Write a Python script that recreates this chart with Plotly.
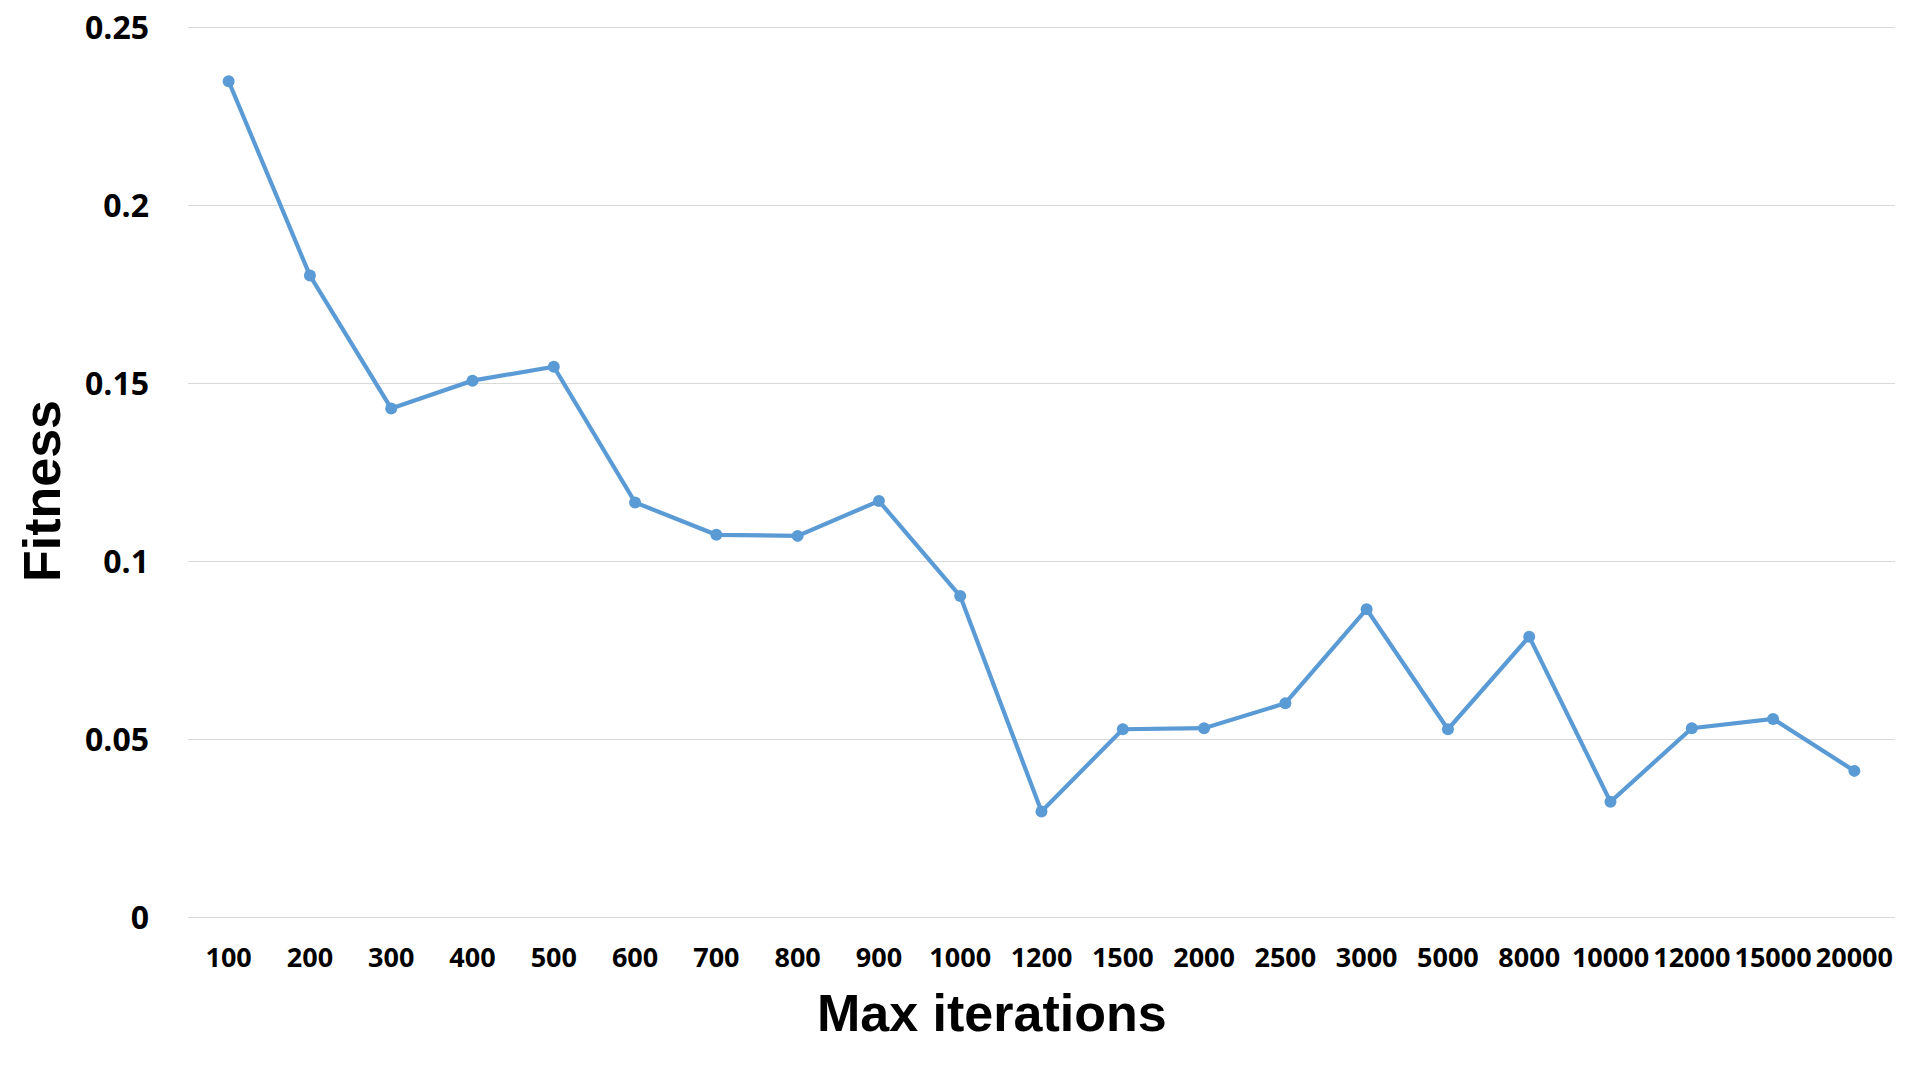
import plotly.graph_objects as go

# Max iterations (categories) and fitness values
iterations = ["100", "200", "300", "400", "500", "600", "700", "800", "900", "1000",
              "1200", "1500", "2000", "2500", "3000", "5000", "8000", "10000",
              "12000", "15000", "20000"]
fitness = [0.2349, 0.1803, 0.1430, 0.1508, 0.1547, 0.1166, 0.1075, 0.1072, 0.1170, 0.0903,
           0.0298, 0.0529, 0.0532, 0.0602, 0.0866, 0.0529, 0.0789, 0.0325,
           0.0532, 0.0558, 0.0412]

y_ticks = [0, 0.05, 0.1, 0.15, 0.2, 0.25]
y_labels = ["0", "0.05", "0.1", "0.15", "0.2", "0.25"]

blue = "#5B9BD5"
tick_font = dict(family="Open Sans", size=27, color="black", weight="bold")

fig = go.Figure()
fig.add_trace(go.Scatter(
    x=iterations,
    y=fitness,
    mode="lines+markers",
    line=dict(color=blue, width=4.2),
    marker=dict(color=blue, size=12),
    showlegend=False,
))

# page body adds an 8px offset, margins account for it;
# y range padded a hair so the 0 and 0.25 gridlines are not clipped
fig.update_layout(
    width=1913,
    height=1068,
    margin=dict(l=180, r=26, t=18, b=157),
    plot_bgcolor="white",
    paper_bgcolor="white",
    xaxis=dict(
        type="category",
        range=[-0.5, len(iterations) - 0.5],
        showgrid=False,
        showline=False,
        zeroline=False,
        tickfont=tick_font,
        tickangle=0,
        automargin=False,
        ticklabelstandoff=20,
    ),
    yaxis=dict(
        range=[-0.0004, 0.2504],
        tickvals=y_ticks,
        ticktext=y_labels,
        showgrid=True,
        gridcolor="#D9D9D9",
        gridwidth=1.3,
        zeroline=False,
        showline=False,
        automargin=False,
        ticklabeloverflow="allow",
        tickfont=dict(family="Open Sans", size=32, color="black", weight="bold"),
        ticklabelstandoff=38,
    ),
    annotations=[
        dict(text="Max iterations", xref="paper", yref="paper",
             x=(992 - 188) / 1707, y=-(1012 - 918) / 891,
             xanchor="center", yanchor="middle", showarrow=False,
             font=dict(family="Liberation Sans", size=52, color="black", weight="bold")),
        dict(text="Fitness", xref="paper", yref="paper",
             x=-(188 - 42) / 1707, y=(918 - 491) / 891, textangle=-90,
             xanchor="center", yanchor="middle", showarrow=False,
             font=dict(family="Liberation Sans", size=52, color="black", weight="bold")),
    ],
)

fig.write_html("out.html")
